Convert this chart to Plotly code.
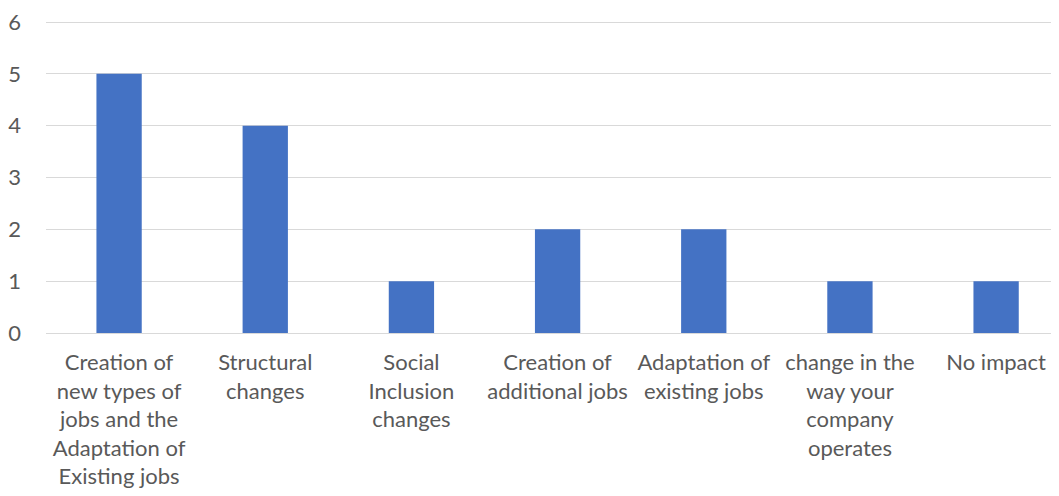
import plotly.graph_objects as go

categories = [
    "Creation of<br>new types of<br>jobs and the<br>Adaptation of<br>Existing jobs",
    "Structural<br>changes",
    "Social<br>Inclusion<br>changes",
    "Creation of<br>additional jobs",
    "Adaptation of<br>existing jobs",
    "change in the<br>way your<br>company<br>operates",
    "No impact",
]
values = [5, 4, 1, 2, 2, 1, 1]
y_ticks = [0, 1, 2, 3, 4, 5, 6]

x_idx = list(range(len(categories)))

fig = go.Figure(go.Bar(
    x=x_idx, y=values, width=0.31,
    marker=dict(color="#4472C4", line=dict(width=0)),
))

fig.update_layout(
    width=1059, height=496,
    margin=dict(l=37, r=0, t=9, b=171),
    paper_bgcolor="white", plot_bgcolor="white",
    font=dict(family="Lato, Open Sans, sans-serif", size=22, color="#595959"),
    showlegend=False,
    xaxis=dict(
        range=[-0.5, 6.485],
        tickmode="array", tickvals=x_idx, ticktext=categories,
        showgrid=False, zeroline=False, showline=False,
        ticks="", ticklabelstandoff=14,
        tickfont=dict(size=22, color="#595959"),
    ),
    yaxis=dict(
        range=[0, 6.02], tickmode="array", tickvals=y_ticks,
        showgrid=True, gridcolor="#D9D9D9", gridwidth=1,
        zeroline=True, zerolinecolor="#D9D9D9", zerolinewidth=1,
        showline=False, ticks="", ticklabelstandoff=24,
        ticklabeloverflow="allow",
        tickfont=dict(size=22, color="#595959"),
    ),
)

fig.write_html("out.html")
